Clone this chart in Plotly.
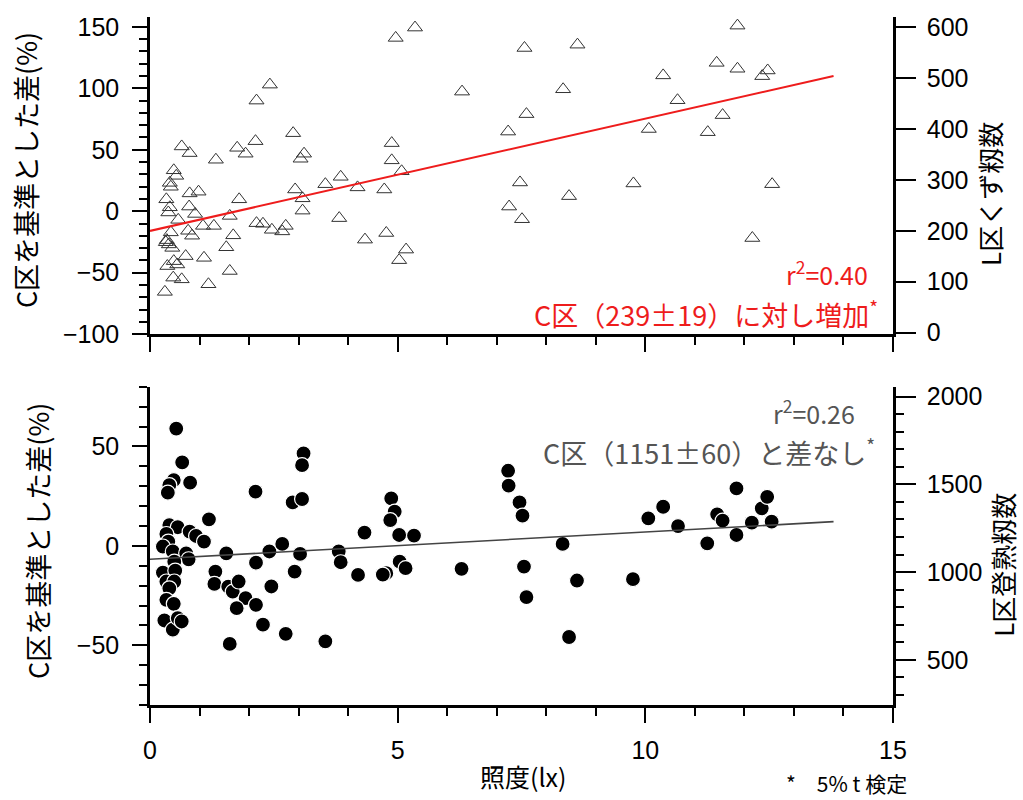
import plotly.graph_objects as go

# ---------------- data ----------------
# Top panel: illuminance (lx) vs. % difference relative to C plot (L-plot scrap grains)
top_lux = [4.96, 2.42, 2.15, 2.89, 0.64, 0.80, 1.76, 1.93, 2.13, 1.33, 3.11, 3.04, 0.48, 0.53,
           0.40, 0.42, 0.33, 0.80, 0.98, 0.40, 0.37, 0.79, 0.91, 0.57, 1.07, 1.29, 1.61, 1.80,
           0.42, 0.77, 0.85, 0.32, 0.34, 0.38, 0.45, 0.72, 0.35, 0.48, 0.55, 1.09, 1.54, 1.68,
           0.47, 0.64, 1.18, 1.61, 0.30, 2.15, 2.28, 2.46, 2.67, 2.74, 2.93, 3.08, 3.08, 3.54,
           3.85, 3.82, 4.19, 4.34, 4.73, 4.77, 4.88, 4.88, 5.03, 5.35, 5.08, 5.17, 6.30, 7.56,
           8.63, 8.34, 7.60, 7.23, 7.47, 7.25, 7.51, 8.46, 9.76, 11.86, 11.44, 11.86, 10.36,
           12.36, 12.47, 10.65, 11.56, 10.07, 11.26, 12.56, 12.16]
top_pct = [141, 103, 90, 63.5, 52.7, 47.3, 51.6, 46.8, 57.0, 41.9, 46.8, 42.7, 33.3, 28.8,
           23.1, 19.9, 9.7, 14.5, 15.9, 3.2, -1.0, 3.8, -2.2, -7.0, -11.9, -11.9, -3.8, 9.7,
           -17.2, -15.9, -19.9, -25.2, -23.5, -27.0, -29.8, -36.5, -44.6, -40.6, -43.3, -37.9, -29.3, -19.6,
           -54.0, -55.4, -59.4, -48.6, -65.6, -9.7, -10.2, -15.1, -16.4, -11.9, 17.7, 10.5, 0.5, 22.0,
           28.0, -5.6, 19.4, -23.1, 17.7, -17.7, 55.4, 41.4, -39.8, 149.4, 32.5, -31.2, 97.3, 132.8,
           135.5, 99.2, 79.0, 64.8, 23.4, 3.8, -6.5, 12.3, 22.6, 151, 120.7, 115.9, 110.5,
           109.9, 114.5, 90.3, 78.2, 66.9, 64.3, 22.0, -21.8]

# Bottom panel: illuminance (lx) vs. % difference relative to C plot (L-plot ripened grains)
bot_lux = [0.53, 0.65, 0.48, 0.39, 0.36, 0.81, 2.13, 3.10, 3.07, 2.88, 3.07, 1.19,
           0.39, 0.56, 0.80, 0.93, 1.09, 0.33, 0.37, 0.26, 0.46, 0.73, 0.78, 0.49, 1.54, 2.14,
           2.41, 2.67, 3.03, 3.81, 3.85, 4.33, 4.20, 4.77, 4.70, 4.87, 4.94, 4.85, 5.03, 5.33,
           5.04, 5.16, 0.26, 0.51, 0.33, 0.49, 0.39, 1.32, 1.30, 1.58, 1.67, 1.79, 1.93, 1.75,
           2.14, 2.45, 2.28, 1.61, 2.74, 2.92, 3.54, 0.33, 0.48, 0.29, 0.46, 0.56, 0.64,
           6.29, 7.23, 7.24, 7.46, 7.52, 7.55, 7.60, 8.33, 8.62, 8.46, 9.75,
           10.06, 10.36, 10.66, 11.25, 11.45, 11.56, 11.84, 11.84, 12.15, 12.35, 12.46, 12.55]
bot_pct = [59.0, 42.0, 33.1, 30.6, 26.8, 31.8, 27.3, 46.5, 40.6, 21.9, 23.6, 13.4,
           10.5, 9.4, 7.2, 5.0, 2.2, 6.0, 2.2, -0.3, -2.8, -3.7, -6.7, -7.9, -3.7, -8.4,
           -2.8, 1.0, -4.0, -2.8, -8.2, 6.7, -14.6, -13.7, -14.4, 23.9, 17.2, 13.0, 5.5, 5.2,
           -7.9, -11.2, -13.4, -12.4, -17.9, -17.9, -21.3, -12.9, -19.1, -20.5, -23.0, -17.9, -26.3, -31.3,
           -29.6, -20.4, -39.6, -49.3, -44.2, -12.9, -48.0, -27.1, -29.1, -37.5, -42.1, -36.3, -38.0,
           -11.5, 37.8, 30.3, 21.9, 15.2, -10.4, -25.7, 1.0, -17.4, -45.8, -16.7,
           13.9, 19.7, 10.0, 1.3, 15.9, 12.7, 28.9, 5.5, 11.7, 18.9, 24.7, 12.2]

# regression lines (end points)
fit_lux = [0, 13.8]
fit_top = [-16, 110]
fit_bot = [-6.7, 12.2]

# axis ranges
x_range = [0, 15]
top_pct_range = [-100, 158]
top_cnt_range = [-3, 620]
bot_pct_range = [-80, 80]
bot_cnt_range = [243, 2055]

FONT_JP = "Noto Sans CJK JP"
FONT_NUM = "Liberation Sans, Arial"
RED = "#ee1c1c"
GRAY = "#555555"

fig = go.Figure()

fig.add_trace(go.Scatter(x=top_lux, y=top_pct, mode="markers", xaxis="x", yaxis="y",
                         marker=dict(symbol="triangle-up-open", size=13, color="#333333",
                                     line=dict(width=1, color="#333333")),
                         showlegend=False, hoverinfo="skip"))
fig.add_trace(go.Scatter(x=fit_lux, y=fit_top, mode="lines", xaxis="x", yaxis="y",
                         line=dict(color=RED, width=2), showlegend=False, hoverinfo="skip"))
fig.add_trace(go.Scatter(x=[None], y=[None], xaxis="x", yaxis="y2", showlegend=False,
                         hoverinfo="skip"))

fig.add_trace(go.Scatter(x=bot_lux, y=bot_pct, mode="markers", xaxis="x2", yaxis="y3",
                         marker=dict(symbol="circle", size=15, color="black",
                                     line=dict(width=1.2, color="white")),
                         showlegend=False, hoverinfo="skip"))
fig.add_trace(go.Scatter(x=fit_lux, y=fit_bot, mode="lines", xaxis="x2", yaxis="y3",
                         line=dict(color="#444444", width=1.6), showlegend=False, hoverinfo="skip"))
fig.add_trace(go.Scatter(x=[None], y=[None], xaxis="x2", yaxis="y4", showlegend=False,
                         hoverinfo="skip"))

W, H = 1023, 800
ML, MR, MT, MB = 150, 130, 13, 95
PW, PH = W - ML - MR, H - MT - MB


def px(xp):
    return (xp - ML) / PW


def py(yp):
    return (H - MB - yp) / PH


top_dom = [py(332), 1]
bot_dom = [0, py(385)]

axis_common = dict(showline=True, linecolor="black", linewidth=2.5, ticks="outside",
                   tickcolor="black", tickwidth=2, showgrid=False, zeroline=False,
                   tickfont=dict(family=FONT_NUM, size=25, color="black"))

fig.update_layout(
    width=W, height=H, margin=dict(l=ML, r=MR, t=MT, b=MB),
    paper_bgcolor="white", plot_bgcolor="white", showlegend=False,
    xaxis=dict(**axis_common, domain=[0, 1], anchor="y", range=x_range, dtick=5, ticklen=15,
               minor=dict(dtick=1, ticklen=8, tickcolor="black", tickwidth=2, ticks="outside"),
               showticklabels=False),
    yaxis=dict(**axis_common, domain=top_dom, anchor="x", range=top_pct_range, dtick=50,
               ticklen=15, ticklabelstandoff=8,
               minor=dict(dtick=10, ticklen=8, tickcolor="black", tickwidth=2, ticks="outside")),
    yaxis2=dict(**axis_common, overlaying="y", side="right", anchor="x", range=top_cnt_range,
                dtick=100, tick0=0, ticklen=20, ticklabelstandoff=6),
    xaxis2=dict(**axis_common, domain=[0, 1], anchor="y3", range=x_range, dtick=5, ticklen=15,
                ticklabelstandoff=6,
                minor=dict(dtick=1, ticklen=8, tickcolor="black", tickwidth=2, ticks="outside")),
    yaxis3=dict(**axis_common, domain=bot_dom, anchor="x2", range=bot_pct_range, dtick=50,
                ticklen=15, ticklabelstandoff=8,
                minor=dict(dtick=10, ticklen=8, tickcolor="black", tickwidth=2, ticks="outside")),
    yaxis4=dict(**axis_common, overlaying="y3", side="right", anchor="x2", range=bot_cnt_range,
                dtick=500, tick0=0, ticklen=20, ticklabelstandoff=6,
                minor=dict(dtick=100, ticklen=8, tickcolor="black", tickwidth=2, ticks="outside")),
)

def ann(text, x, y, size, color="black", xanchor="center", angle=0):
    fig.add_annotation(text=text, x=x, y=y, xref="paper", yref="paper", showarrow=False,
                       xanchor=xanchor, yanchor="middle", textangle=angle,
                       font=dict(family=FONT_JP, size=size, color=color))

# axis titles
ann("C区を基準とした差(%)", px(25), py(167), 27, angle=-90)
ann("C区を基準とした差(%)", px(38), py(540), 27, angle=-90)
ann("L区くず籾数", px(990), py(191), 26, angle=-90)
ann("L区登熟籾数", px(1003), py(564), 26, angle=-90)
ann("照度(lx)", px(523), py(776), 25)
ann("*　5% t 検定", px(846), py(783), 21)

# statistics
ann("r<sup>2</sup>=0.40", px(870), py(270), 25, RED, "right")
ann("C区（239±19）に対し増加<sup>*</sup>", px(880), py(311), 27, RED, "right")
ann("r<sup>2</sup>=0.26", px(857), py(410), 25, GRAY, "right")
ann("C区（1151±60）と差なし<sup>*</sup>", px(877), py(450), 27, GRAY, "right")

fig.write_html("out.html")
